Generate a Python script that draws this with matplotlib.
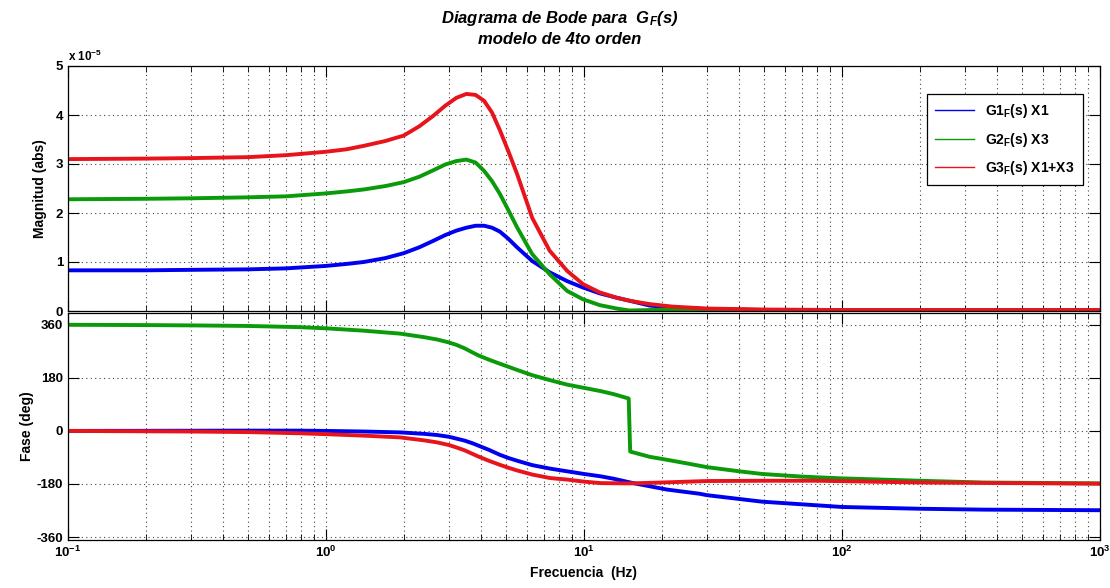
import numpy as np
import matplotlib.pyplot as plt
from matplotlib.lines import Line2D
from matplotlib.ticker import FixedLocator, FuncFormatter, LogLocator, NullFormatter

plt.rcParams['font.family'] = ['Liberation Sans', 'DejaVu Sans']
plt.rcParams['font.weight'] = 'bold'
plt.rcParams['axes.unicode_minus'] = False
plt.rcParams['mathtext.fontset'] = 'custom'
plt.rcParams['mathtext.rm'] = 'Liberation Sans:bold'
plt.rcParams['mathtext.it'] = 'Liberation Sans:italic:bold'
plt.rcParams['mathtext.bf'] = 'Liberation Sans:bold'

# magnitud (x 1e-5)
f_mag = [0.1, 0.2, 0.3, 0.5, 0.7, 1.0, 1.2, 1.4, 1.7, 2.0, 2.3, 2.6, 2.9, 3.2, 3.5, 3.8, 4.1,
         4.4, 4.72, 5.1, 5.5, 6.3, 7.36, 8.6, 9.9, 11.5, 13.4, 15, 18, 22, 30, 50, 100, 1000]
mag_g1 = [0.83, 0.83, 0.84, 0.85, 0.87, 0.92, 0.96, 1.00, 1.08, 1.18, 1.30, 1.43, 1.55, 1.64, 1.70, 1.74, 1.74,
          1.70, 1.62, 1.47, 1.30, 1.02, 0.79, 0.61, 0.48, 0.36, 0.27, 0.21, 0.11, 0.07, 0.04, 0.02, 0.01, 0.01]
mag_g2 = [2.28, 2.29, 2.30, 2.32, 2.34, 2.40, 2.44, 2.48, 2.55, 2.63, 2.74, 2.87, 2.99, 3.06, 3.09, 3.03, 2.86,
          2.65, 2.39, 2.05, 1.71, 1.16, 0.75, 0.41, 0.24, 0.12, 0.05, 0.01, 0.02, 0.03, 0.03, 0.02, 0.02, 0.02]
mag_g3 = [3.10, 3.11, 3.12, 3.14, 3.18, 3.25, 3.30, 3.37, 3.47, 3.58, 3.77, 3.98, 4.19, 4.35, 4.43, 4.41, 4.29,
          4.05, 3.69, 3.25, 2.80, 1.90, 1.23, 0.82, 0.55, 0.38, 0.27, 0.21, 0.14, 0.09, 0.05, 0.03, 0.02, 0.02]

# fase (deg)
f_ph1 = [0.1, 0.5, 0.79, 1.0, 1.4, 1.94, 2.4, 2.7, 3.0, 3.2, 3.45, 3.7, 3.9, 4.3, 4.72, 5.1, 5.5,
         6.3, 7.4, 8.6, 10, 11.6, 13, 15.5, 21, 28, 30, 49, 100, 200, 354, 1000]
ph_g1 = [0, 1, 1, 0, -2, -5, -10, -14, -20, -26, -33, -42, -50, -65, -81, -92, -101,
         -116, -128, -137, -146, -154, -162, -177, -199, -213, -218, -240, -258, -264, -267, -269]
f_ph2 = [0.1, 0.2, 0.3, 0.5, 0.79, 1.0, 1.4, 1.94, 2.4, 2.7, 3.0, 3.2, 3.45, 3.7, 3.9, 4.3, 4.72,
         5.5, 6.3, 7.4, 8.6, 10, 11.6, 13, 14.9, 15.1, 18, 21, 25, 30, 40, 49, 70, 100, 200, 354, 1000]
ph_g2 = [360, 359, 358, 356, 352, 348, 340, 330, 318, 310, 300, 292, 280, 266, 256, 241, 228,
         207, 189, 172, 157, 146, 135, 125, 110, -70, -88, -98, -110, -123, -137, -146, -155, -161, -169, -175, -178]
f_ph3 = [0.1, 0.3, 0.5, 0.79, 1.0, 1.4, 1.94, 2.4, 2.7, 3.0, 3.2, 3.45, 3.7, 3.9, 4.3, 4.72, 5.1,
         5.5, 6.3, 7.4, 8.6, 10, 11.6, 15, 20, 30, 50, 80, 200, 1000]
ph_g3 = [0, -2, -4, -8, -11, -16, -22, -32, -39, -48, -56, -66, -78, -87, -102, -115, -125,
         -134, -148, -160, -165, -172, -177, -178, -175, -170, -169, -169, -175, -179]

colores = ['#0000f0', '#0a9a0a', '#e8141c']
etiquetas = [r'G1$_{\mathrm{F}}$(s) X1', r'G2$_{\mathrm{F}}$(s) X3', r'G3$_{\mathrm{F}}$(s) X1+X3']

fig = plt.figure(figsize=(11.1, 5.88), dpi=100)
ax1 = fig.add_axes([68/1110, 1-311/588, 1032/1110, 245/588])
ax2 = fig.add_axes([68/1110, 1-540/588, 1032/1110, 227/588])

for y, c in zip([mag_g1, mag_g2, mag_g3], colores):
    ax1.semilogx(f_mag, np.array(y)*1e-5, color=c, linewidth=2.8)
ax2.semilogx(f_ph1, ph_g1, color=colores[0], linewidth=2.8)
ax2.semilogx(f_ph2, ph_g2, color=colores[1], linewidth=2.8)
ax2.semilogx(f_ph3, ph_g3, color=colores[2], linewidth=2.8)

for ax in (ax1, ax2):
    ax.set_xlim(0.1, 1000)
    ax.xaxis.set_major_locator(LogLocator(base=10, numticks=10))
    ax.xaxis.set_minor_locator(LogLocator(base=10, subs=np.arange(2, 10), numticks=10))
    ax.xaxis.set_minor_formatter(NullFormatter())
    ax.grid(True, which='major', linestyle=(0, (1, 3)), color='#444444', linewidth=0.8)
    ax.grid(True, which='minor', axis='x', linestyle=(0, (1, 3)), color='#444444', linewidth=0.8)
    ax.tick_params(which='both', direction='in', top=True, right=True, labelsize=9.5)
    ax.tick_params(which='major', length=8)
    ax.tick_params(which='minor', length=4)
    for lab in ax.get_yticklabels() + ax.get_xticklabels():
        lab.set_fontweight('bold')
    for s in ax.spines.values():
        s.set_linewidth(0.9)

ax1.set_ylim(0, 5e-5)
ax1.yaxis.set_major_locator(FixedLocator(np.arange(0, 6)*1e-5))
ax1.yaxis.set_major_formatter(FuncFormatter(lambda v, p: '%d' % round(v/1e-5)))
ax1.set_xticklabels([])
ax1.text(0, 1.01, r'x 10$^{-5}$', transform=ax1.transAxes, fontsize=8.5, ha='left', va='bottom')
ax1.set_ylabel('Magnitud (abs)', fontsize=10, fontweight='bold', labelpad=6)

ax2.set_ylim(-370, 400)
ax2.set_yticks([-360, -180, 0, 180, 360])
ax2.set_ylabel('Fase (deg)', fontsize=10, fontweight='bold', labelpad=2)
ax2.set_xlabel('Frecuencia  (Hz)', fontsize=10, fontweight='bold', labelpad=4)

handles = [Line2D([], [], color=c, linewidth=1) for c in colores]
leg = ax1.legend(handles, etiquetas, loc='upper right', bbox_to_anchor=(0.99, 0.915),
                 prop={'size': 10, 'weight': 'bold'},
                 frameon=True, fancybox=False, edgecolor='black', framealpha=1,
                 handlelength=2.8, borderpad=0.6, labelspacing=0.75)
leg.get_frame().set_linewidth(0.9)

fig.text(560/1110, 1-18/588, r'Diagrama de Bode para  G$_F$(s)', ha='center', va='center',
         fontsize=12, fontstyle='italic', fontweight='bold')
fig.text(560/1110, 1-40/588, 'modelo de 4to orden', ha='center', va='center',
         fontsize=12, fontstyle='italic', fontweight='bold')

fig.savefig('out.png', dpi=100)
